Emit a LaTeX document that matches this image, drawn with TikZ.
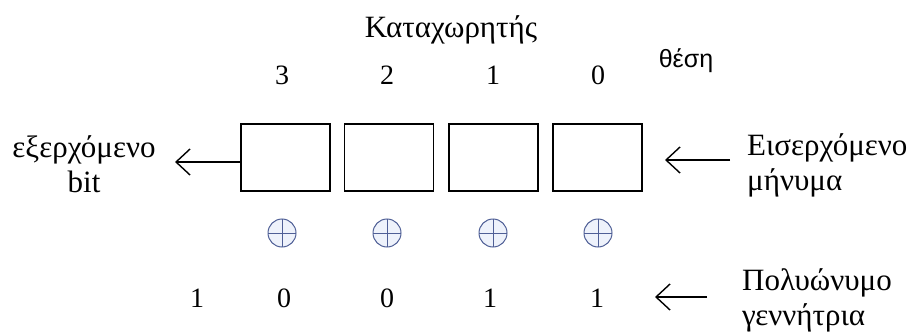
\documentclass[tikz,border=0pt]{standalone}
\usepackage{fontspec}
\setmainfont{Liberation Serif}
\newfontfamily\possans{Liberation Sans}
\usetikzlibrary{arrows.meta}
\definecolor{xorline}{HTML}{4F5F96}
\definecolor{xorfill}{HTML}{EEF2FB}
\tikzset{
  regpic/.style={x=1pt, y=-1pt},
  regcell/.style={draw, line width=1.9pt, minimum width=89pt, minimum height=67pt,
                  inner sep=0pt},
  xorsym/.style={circle, draw=xorline, fill=xorfill, line width=1pt,
                 minimum size=28pt, inner sep=0pt,
                 path picture={\draw[xorline, line width=1pt]
                   (path picture bounding box.north) -- (path picture bounding box.south)
                   (path picture bounding box.west) -- (path picture bounding box.east);}},
  rtext/.style={font=\fontsize{31}{35}\selectfont, inner sep=0pt},
  rdigit/.style={font=\fontsize{28}{32}\selectfont, inner sep=0pt},
  flow/.style={line width=1.4pt, -{Straight Barb[length=14pt, width=26pt]}},
}

\begin{document}
\begin{tikzpicture}[regpic]
  \useasboundingbox (0,0) rectangle (917,334);
  % title and bit positions
  \node[rtext] (title) at (451,30) {Καταχωρητής};
  \node[rtext, font=\possans\fontsize{25}{28}\selectfont] (pos) at (686,61) {θέση};
  \node[rdigit] (p3) at (282,75) {3};\node[rdigit] (p2) at (387,75) {2};
  \node[rdigit] (p1) at (493,75) {1};\node[rdigit] (p0) at (598,75) {0};
  % register cells
  \node[regcell] (c3) at (285.5,157.5) {};\node[regcell] (c2) at (389,157.5) {};
  \node[regcell] (c1) at (493.5,157.5) {};\node[regcell] (c0) at (597.5,157.5) {};
  % xor gates
  \node[xorsym] (x3) at (282,233) {};\node[xorsym] (x2) at (387,233) {};
  \node[xorsym] (x1) at (493,233) {};\node[xorsym] (x0) at (598,233) {};
  % generator coefficients
  \node[rdigit] (g4) at (197,298) {1};\node[rdigit] (g3) at (284,298) {0};
  \node[rdigit] (g2) at (387,298) {0};\node[rdigit] (g1) at (490,298) {1};
  \node[rdigit] (g0) at (597,298) {1};
  % side labels
  \node[rtext, align=center] (outbit) at (84,164) {εξερχόμενο\\bit};
  \node[rtext, align=left, anchor=west] (inmsg) at (747,165) {Εισερχόμενο\\μήνυμα};
  \node[rtext, align=left, anchor=west] (genpoly) at (742,300) {Πολυώνυμο\\γεννήτρια};
  % arrows
  \coordinate (outend) at (175,162);
  \coordinate (instart) at (730,160);
  \coordinate (inend) at (665,160);
  \coordinate (genstart) at (707,297);
  \coordinate (genend) at (655,297);
  \draw[flow] (c3.west |- outend) -- (outend);
  \draw[flow] (instart) -- (inend);
  \draw[flow] (genstart) -- (genend);
\end{tikzpicture}
\end{document}
